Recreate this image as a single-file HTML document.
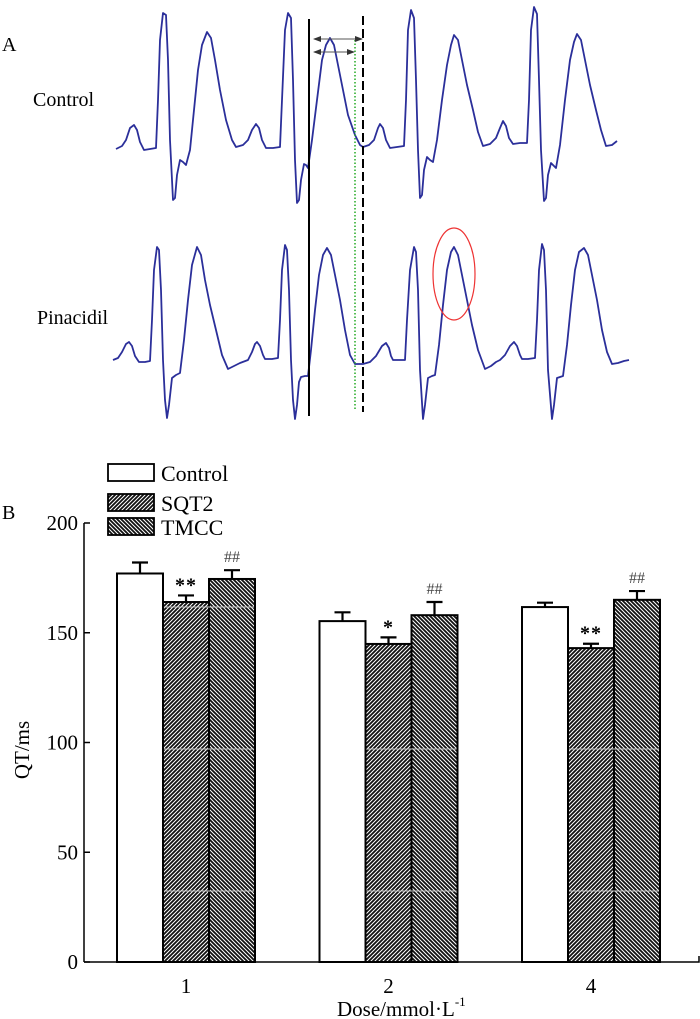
<!DOCTYPE html>
<html><head><meta charset="utf-8"><style>
html,body{margin:0;padding:0;background:#fff;}
svg{display:block;}
text{font-family:"Liberation Serif",serif;}
</style></head><body>
<svg id="fig" width="700" height="1019" viewBox="0 0 700 1019">
<defs>
<pattern id="hatchR" width="4" height="4" patternUnits="userSpaceOnUse">
<rect width="4" height="4" fill="#111"/>
<path d="M-1,1 l2,-2 M0,4 l4,-4 M3,5 l2,-2" stroke="#fff" stroke-width="1"/>
</pattern>
<pattern id="hatchL" width="4" height="4" patternUnits="userSpaceOnUse">
<rect width="4" height="4" fill="#111"/>
<path d="M-1,3 l2,2 M0,0 l4,4 M3,-1 l2,2" stroke="#fff" stroke-width="1"/>
</pattern>
<marker id="arr" markerWidth="8" markerHeight="6" refX="7" refY="3" orient="auto-start-reverse"><path d="M0,0 L8,3 L0,6 z" fill="#333"/></marker>
</defs>
<g>
<text x="2" y="51" font-size="20">A</text>
<text x="33" y="106" font-size="20">Control</text>
<text x="37" y="324" font-size="20">Pinacidil</text>
<polyline id="ecgControl" fill="none" stroke="#2b2f9a" stroke-width="1.8" stroke-linejoin="round"/>
<polyline id="ecgPina" fill="none" stroke="#2b2f9a" stroke-width="1.8" stroke-linejoin="round"/>
<line x1="309" y1="19" x2="309" y2="416" stroke="#000" stroke-width="2"/>
<line x1="363" y1="16" x2="363" y2="412" stroke="#000" stroke-width="2" stroke-dasharray="9,4"/>
<line x1="355" y1="40" x2="355" y2="410" stroke="#22aa22" stroke-width="1.5" stroke-dasharray="1.5,2"/>
<line x1="314" y1="39" x2="362" y2="39" stroke="#555" stroke-width="1" marker-start="url(#arr)" marker-end="url(#arr)"/>
<line x1="314" y1="52" x2="354" y2="52" stroke="#555" stroke-width="1" marker-start="url(#arr)" marker-end="url(#arr)"/>
<ellipse cx="454" cy="274" rx="21" ry="46" fill="none" stroke="#e33" stroke-width="1.2"/>
</g>
<g id="panelB">
<text x="2" y="519" font-size="20">B</text>
</g>
</svg>
<script>
// ECG traces (illustrative waveform readings)
const controlTrace = [116,149,122,146,126,140,130,128,134,125,137,130,140,142,144,150,150,149,156,148,158,100,160,40,163,13,166,15,168,60,170,140,173,200,175,198,177,175,180,160,183,162,186,165,190,150,194,110,198,70,202,45,207,32,211,38,215,60,220,90,226,120,232,140,236,147,243,145,248,140,252,130,256,124,259,128,262,140,266,148,273,148,280,147,282,100,285,30,288,13,291,18,293,80,295,160,297,203,299,200,301,180,304,164,306,165,308,168,312,140,317,100,322,60,326,45,330,38,334,45,338,65,343,90,348,115,355,135,360,145,363,147,369,145,374,140,378,128,380,124,383,128,386,140,390,148,397,147,404,146,406,100,408,30,411,10,414,18,416,80,418,150,420,198,422,195,424,170,427,157,430,160,433,162,437,140,442,100,447,65,451,45,454,35,458,40,462,60,467,85,473,110,478,132,483,146,490,144,496,138,500,128,503,121,506,126,509,138,513,144,520,143,527,143,529,100,531,30,534,7,537,14,539,80,541,150,544,201,546,198,548,175,551,163,554,166,556,168,560,145,565,100,570,60,574,42,577,34,581,40,585,60,590,85,596,110,601,130,606,146,612,145,617,141];
const pinaTrace = [113,360,118,358,122,352,126,344,129,342,132,346,135,356,139,362,145,362,150,361,152,320,154,270,157,247,159,250,161,290,163,360,165,400,167,418,169,405,172,378,176,375,180,373,184,340,188,300,192,265,197,247,201,255,205,280,210,305,216,330,222,355,228,369,234,366,240,363,248,360,252,352,255,344,257,342,260,346,263,355,265,359,272,359,278,358,280,320,282,270,285,245,287,250,289,290,291,360,293,400,295,419,297,405,299,382,301,377,305,376,308,376,311,350,315,310,319,275,323,255,327,248,331,255,335,275,340,300,345,330,350,355,355,364,363,364,370,362,376,356,382,346,386,343,389,348,391,356,393,360,400,360,405,360,407,320,410,270,414,247,416,252,418,290,420,370,423,419,425,405,428,378,432,376,435,375,439,345,443,305,447,270,451,252,454,247,458,255,462,275,467,300,472,325,478,350,485,369,491,366,496,362,500,360,505,355,510,346,514,342,517,346,520,355,522,359,528,359,535,358,537,320,539,270,542,244,544,250,546,290,548,370,552,419,554,405,557,378,560,377,563,376,567,345,571,305,575,270,579,252,584,248,588,255,592,275,597,300,602,330,607,352,612,364,618,363,624,361,629,360];
function toPts(a){let s=[];for(let i=0;i<a.length;i+=2)s.push(a[i]+','+a[i+1]);return s.join(' ');}
document.getElementById('ecgControl').setAttribute('points',toPts(controlTrace));
document.getElementById('ecgPina').setAttribute('points',toPts(pinaTrace));

// Bar chart data
const categories = ['1','2','4'];
const seriesNames = ['Control','SQT2','TMCC'];
const controlVals = [177,155.3,161.7];
const sqt2Vals = [164,144.9,143];
const tmccVals = [174.5,158,165];
const controlErr = [5,4,2];
const sqt2Err = [3,3,2];
const tmccErr = [4,6,4];
const sqt2Marks = ['**','*','**'];
const tmccMarks = ['##','##','##'];
const yTicks = [0,50,100,150,200];

const NS='http://www.w3.org/2000/svg';
const g=document.getElementById('panelB');
function mk(tag,attrs){const e=document.createElementNS(NS,tag);for(const k in attrs)e.setAttribute(k,attrs[k]);g.appendChild(e);return e;}
const y0=962, yTop=523, vMax=200;
function yS(v){return y0-(y0-yTop)*v/vMax;}
const axisX=84, bw=46;
function xC(i){return 186+i*202.5;}

let ax=mk('line',{x1:axisX,y1:yTop,x2:axisX,y2:y0,stroke:'#000','stroke-width':1.5});


let bx=mk('path',{d:`M${axisX},${y0} L699,${y0} L699,${y0-6}`,fill:'none',stroke:'#000','stroke-width':1.5});


yTicks.forEach(v=>{
  const y=yS(v);
  let t=mk('line',{x1:axisX,y1:y,x2:axisX+6,y2:y,stroke:'#000','stroke-width':1.5});
  
  
  let l=mk('text',{x:axisX-6,y:y+7,'font-size':21,'text-anchor':'end'});
  l.textContent=v;
  
  
});
let yt=mk('text',{x:29,y:750,'font-size':21,'text-anchor':'middle',transform:'rotate(-90 29 750)'});
yt.textContent='QT/ms';


let xt=mk('text',{x:337,y:1016,'font-size':21});
xt.innerHTML='Dose/mmol·L<tspan dy="-10" font-size="13">-1</tspan>';



const fills=['#fff','url(#hatchR)','url(#hatchL)'];
const vals=[controlVals,sqt2Vals,tmccVals], errs=[controlErr,sqt2Err,tmccErr];
categories.forEach((c,i)=>{
  let cl=mk('text',{x:xC(i),y:993,'font-size':21,'text-anchor':'middle'});
  cl.textContent=c;
  
  
  for(let s=0;s<3;s++){
    const x=xC(i)-69+s*bw, v=vals[s][i], yt2=yS(v), ye=yS(v+errs[s][i]);
    let eb=mk('path',{d:`M${x+bw/2},${yt2} L${x+bw/2},${ye} M${x+bw/2-8},${ye} L${x+bw/2+8},${ye}`,stroke:'#000','stroke-width':2.2,fill:'none'});
    
    
    let r=mk('rect',{x:x,y:yt2,width:bw,height:y0-yt2,fill:fills[s],stroke:'#000','stroke-width':2});
    
    
  }
  [607,749,891].forEach(ly=>{
    const xs=xC(i)-69+bw+1, xe=xC(i)-69+3*bw-1;
    if(ly>Math.max(yS(sqt2Vals[i]),yS(tmccVals[i]))+2){
      let a=mk('line',{x1:xs,y1:ly,x2:xe,y2:ly,stroke:'#ccc','stroke-width':1});
      
      
    }
  });
  let m1=mk('text',{x:xC(i),y:yS(sqt2Vals[i]+sqt2Err[i])-4,'font-size':20,'text-anchor':'middle','font-weight':'bold','letter-spacing':'1'});
  m1.textContent=sqt2Marks[i];
  
  
  let m2=mk('text',{x:xC(i)+46,y:yS(tmccVals[i]+tmccErr[i])-8,'font-size':16,'text-anchor':'middle',fill:'#444'});
  m2.textContent=tmccMarks[i];
  
  
});
const legY=[464,494,518];
seriesNames.forEach((n,s)=>{
  let b=mk('rect',{x:108,y:legY[s],width:46,height:17,fill:fills[s],stroke:'#000','stroke-width':1.8});
  
  
  let t=mk('text',{x:161,y:legY[s]+17,'font-size':22});
  t.textContent=n;
  
  
});
</script>
</body></html>
